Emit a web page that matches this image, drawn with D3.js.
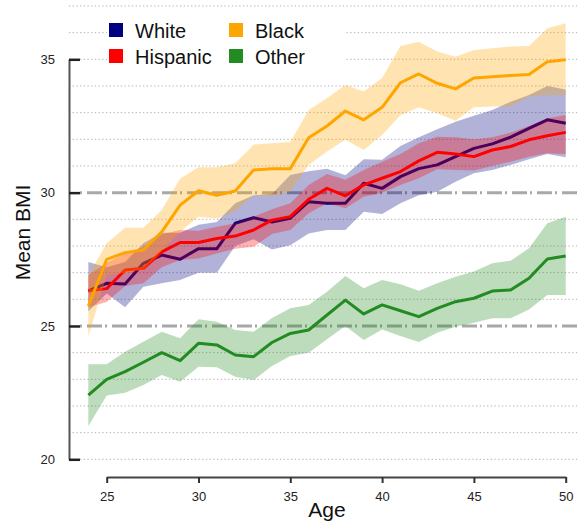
<!DOCTYPE html>
<html>
  <head>
    <meta charset="utf-8">
    <script src="https://d3js.org/d3.v7.min.js"></script>
    <style>
      body { margin: 0; background: #fff; }
      text { font-family: "Liberation Sans", Arial, sans-serif; }
    </style>
  </head>
  <body>
    <div id="chart"></div>
    <script type="text/javascript">
    // ages on the x axis
    var ages = [24, 25, 26, 27, 28, 29, 30, 31, 32, 33, 34, 35, 36, 37, 38, 39, 40, 41, 42, 43, 44, 45, 46, 47, 48, 49, 50];

    // mean BMI and band limits, one array per group
    var whiteMean = [26.32, 26.6, 26.57, 27.35, 27.66, 27.5, 27.9, 27.9, 28.85, 29.06, 28.9, 29.04, 29.66, 29.6, 29.6, 30.35, 30.16, 30.6, 30.9, 31.04, 31.35, 31.66, 31.83, 32.08, 32.41, 32.73, 32.6];
    var whiteLow = [25.55, 26.22, 25.7, 26.47, 26.6, 26.72, 27.0, 27.0, 28.0, 28.25, 27.87, 28.03, 28.47, 28.6, 28.6, 29.28, 29.2, 29.6, 29.9, 30.03, 30.41, 30.73, 30.85, 31.04, 31.25, 31.45, 31.33];
    var whiteHigh = [27.4, 27.2, 27.4, 28.1, 28.5, 28.5, 28.8, 28.9, 29.6, 29.9, 29.95, 30.66, 30.8, 30.9, 30.65, 31.25, 31.23, 31.75, 32.08, 32.38, 32.66, 32.88, 33.1, 33.41, 33.66, 34.0, 33.87];

    var hispMean = [26.32, 26.4, 27.1, 27.16, 27.78, 28.13, 28.13, 28.28, 28.37, 28.6, 28.97, 29.1, 29.75, 30.16, 29.88, 30.29, 30.54, 30.79, 31.19, 31.51, 31.45, 31.35, 31.6, 31.73, 31.98, 32.13, 32.26];
    var hispLow = [25.7, 25.9, 26.5, 26.6, 27.2, 27.47, 27.53, 27.72, 27.9, 27.97, 28.45, 28.6, 29.23, 29.6, 29.41, 29.85, 30.0, 30.29, 30.54, 30.88, 30.85, 30.83, 31.0, 31.16, 31.35, 31.48, 31.45];
    var hispHigh = [26.9, 27.37, 27.72, 27.97, 28.44, 28.6, 28.57, 28.72, 28.85, 29.1, 29.38, 29.6, 30.29, 30.7, 30.48, 30.85, 31.16, 31.45, 31.85, 32.1, 32.08, 32.0, 32.08, 32.25, 32.5, 32.79, 32.91];

    var blackMean = [25.75, 27.5, 27.75, 27.85, 28.53, 29.53, 30.07, 29.9, 30.06, 30.85, 30.9, 30.9, 32.06, 32.5, 33.06, 32.73, 33.2, 34.12, 34.45, 34.1, 33.89, 34.3, 34.35, 34.39, 34.43, 34.91, 34.98];
    var blackLow = [24.6, 26.9, 27.0, 27.1, 27.8, 28.53, 29.1, 29.03, 29.3, 29.9, 29.85, 30.04, 31.04, 31.54, 31.98, 31.6, 32.16, 32.9, 33.2, 32.98, 32.7, 33.2, 33.23, 33.23, 33.6, 33.66, 33.66];
    var blackHigh = [26.9, 28.1, 28.68, 28.68, 29.35, 30.53, 30.95, 30.95, 31.1, 31.8, 31.85, 31.9, 33.1, 33.54, 34.04, 33.79, 34.3, 35.5, 35.66, 35.29, 35.1, 35.35, 35.41, 35.48, 35.5, 36.16, 36.35];

    var otherMean = [22.41, 23.0, 23.29, 23.64, 24.0, 23.7, 24.35, 24.29, 23.91, 23.85, 24.38, 24.72, 24.85, 25.41, 25.97, 25.45, 25.79, 25.57, 25.35, 25.66, 25.91, 26.04, 26.31, 26.35, 26.79, 27.51, 27.62];
    var otherLow = [21.25, 22.39, 22.5, 22.79, 23.16, 22.91, 23.47, 23.45, 23.1, 22.97, 23.5, 23.87, 24.0, 24.5, 25.0, 24.47, 24.87, 24.62, 24.4, 24.75, 24.97, 25.12, 25.29, 25.29, 25.62, 26.16, 26.16];
    var otherHigh = [23.56, 23.56, 24.03, 24.41, 24.78, 24.54, 25.25, 25.16, 24.85, 24.78, 25.3, 25.66, 25.79, 26.28, 26.87, 26.41, 26.72, 26.56, 26.32, 26.6, 26.85, 27.04, 27.35, 27.45, 27.91, 28.85, 29.1];

    // tick labels and reference lines
    var xTicks = [25, 30, 35, 40, 45, 50];
    var yTicks = [20, 25, 30, 35];
    var gridValues = [20, 21, 22, 23, 24, 26, 27, 28, 29, 31, 32, 33, 34, 35, 36, 37];
    var refValues = [25, 30];

    var groups = [
      {name: "White", color: "#000080", mean: whiteMean, lo: whiteLow, hi: whiteHigh},
      {name: "Hispanic", color: "#ff0000", mean: hispMean, lo: hispLow, hi: hispHigh},
      {name: "Black", color: "#ffa500", mean: blackMean, lo: blackLow, hi: blackHigh},
      {name: "Other", color: "#228b22", mean: otherMean, lo: otherLow, hi: otherHigh}
    ];

    var width = 577, height = 531;

    var svg = d3.select("#chart")
      .append("svg")
      .attr("width", width)
      .attr("height", height);

    var x = d3.scaleLinear().domain([25, 50]).range([106.7, 565.7]);
    var y = d3.scaleLinear().domain([20, 35]).range([459.3, 59.3]);

    // dotted grid
    svg.selectAll(".grid")
      .data(gridValues)
      .enter().append("line")
      .attr("x1", 69).attr("x2", width)
      .attr("y1", d => y(d)).attr("y2", d => y(d))
      .attr("stroke", "#b0b0b0")
      .attr("stroke-width", 1)
      .attr("stroke-dasharray", "1.3,2.4");

    // dashed reference lines at 25 and 30
    svg.selectAll(".ref")
      .data(refValues)
      .enter().append("line")
      .attr("x1", 80).attr("x2", width)
      .attr("y1", d => y(d)).attr("y2", d => y(d))
      .attr("stroke", "#a8a8a8")
      .attr("stroke-width", 3)
      .attr("stroke-dasharray", "2,5,15,3");

    var area = d3.area()
      .x(d => x(d.age))
      .y0(d => y(d.lo))
      .y1(d => y(d.hi));

    var line = d3.line()
      .x(d => x(d.age))
      .y(d => y(d.v));

    // each group: band first, then its mean line
    groups.forEach(function(g) {
      var rows = ages.map((a, i) => ({age: a, v: g.mean[i], lo: g.lo[i], hi: g.hi[i]}));
      svg.append("path")
        .datum(rows)
        .attr("d", area)
        .attr("fill", g.color)
        .attr("fill-opacity", 0.3);
      svg.append("path")
        .datum(rows)
        .attr("d", line)
        .attr("fill", "none")
        .attr("stroke", g.color)
        .attr("stroke-width", 3)
        .attr("stroke-linejoin", "round");
    });

    // y axis, ticks pointing inward
    var yAxis = svg.append("g")
      .attr("transform", "translate(69,0)")
      .call(d3.axisLeft(y).tickValues(yTicks).tickSizeInner(-11).tickSizeOuter(0).tickPadding(14));
    yAxis.select(".domain").attr("stroke", "#555").attr("stroke-width", 2);
    yAxis.selectAll(".tick line").attr("stroke", "#222").attr("stroke-width", 2.5);
    yAxis.selectAll("text").attr("font-size", 13).attr("fill", "#222")
      .style("font-family", "Liberation Sans, Arial, sans-serif");

    // x axis
    var xAxis = svg.append("g")
      .attr("transform", "translate(0,477)")
      .call(d3.axisBottom(x).tickValues(xTicks).tickSize(6).tickSizeOuter(0).tickPadding(9));
    xAxis.select(".domain").attr("stroke", "#444").attr("stroke-width", 2);
    xAxis.selectAll(".tick line").attr("stroke", "#333").attr("stroke-width", 2);
    xAxis.selectAll("text").attr("font-size", 13).attr("fill", "#222")
      .style("font-family", "Liberation Sans, Arial, sans-serif");

    // axis titles
    svg.append("text")
      .attr("x", 327).attr("y", 517)
      .attr("text-anchor", "middle")
      .attr("font-size", 21)
      .attr("fill", "#111")
      .text("Age");

    svg.append("text")
      .attr("transform", "translate(30,232.5) rotate(-90)")
      .attr("text-anchor", "middle")
      .attr("font-size", 21)
      .attr("fill", "#111")
      .text("Mean BMI");

    // legend on a white box
    var legend = svg.append("g");
    legend.append("rect")
      .attr("x", 107).attr("y", 10)
      .attr("width", 237).attr("height", 70)
      .attr("fill", "#fff");

    var legendOrder = [groups[0], groups[2], groups[1], groups[3]];
    legendOrder.forEach(function(g, i) {
      var col = i % 2, row = Math.floor(i / 2);
      var lx = 109 + col * 120, ly = 23 + row * 26;
      legend.append("rect")
        .attr("x", lx).attr("y", ly)
        .attr("width", 14).attr("height", 14)
        .attr("fill", g.color);
      legend.append("text")
        .attr("x", lx + 26).attr("y", ly + 14.5)
        .attr("font-size", 20)
        .attr("fill", "#111")
        .text(g.name);
    });
    </script>
  </body>
</html>
